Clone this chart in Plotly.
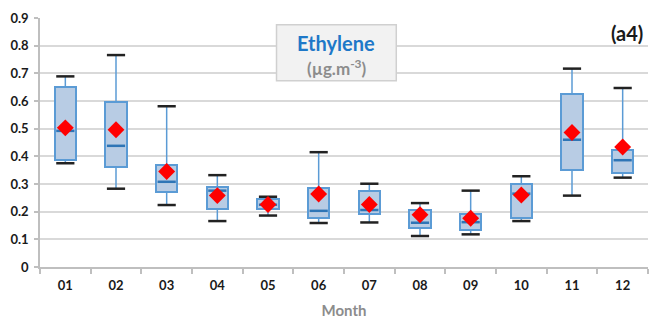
import plotly.graph_objects as go

months = ["01", "02", "03", "04", "05", "06", "07", "08", "09", "10", "11", "12"]
wmin   = [0.375, 0.283, 0.224, 0.166, 0.186, 0.159, 0.161, 0.112, 0.118, 0.166, 0.258, 0.323]
q1     = [0.385, 0.363, 0.271, 0.210, 0.209, 0.177, 0.190, 0.140, 0.132, 0.178, 0.351, 0.339]
median = [0.492, 0.438, 0.308, 0.276, 0.225, 0.203, 0.206, 0.160, 0.162, 0.265, 0.460, 0.386]
q3     = [0.651, 0.598, 0.369, 0.290, 0.245, 0.284, 0.276, 0.206, 0.191, 0.301, 0.626, 0.423]
wmax   = [0.689, 0.766, 0.581, 0.332, 0.254, 0.415, 0.301, 0.231, 0.276, 0.328, 0.717, 0.647]
mean   = [0.503, 0.496, 0.345, 0.258, 0.226, 0.264, 0.226, 0.189, 0.176, 0.260, 0.486, 0.434]

FONT = "Lato"
BLUE = "#5B9BD5"
FILL = "#B8CCE4"
DARK = "#2E75B6"

# whisker segments built from data
wx, wy = [], []
for m, lo, a, b, hi in zip(months, wmin, q1, q3, wmax):
    wx += [m, m, None, m, m, None]
    wy += [lo, a, None, b, hi, None]

fig = go.Figure()
fig.add_trace(go.Scatter(x=wx, y=wy, mode="lines",
                         line=dict(color=BLUE, width=1.5), hoverinfo="skip"))
fig.add_trace(go.Bar(x=months, y=[b - a for a, b in zip(q1, q3)], base=q1,
                     width=0.42, marker=dict(color=FILL, line=dict(color=BLUE, width=2))))
fig.add_trace(go.Scatter(x=months + months, y=wmin + wmax, mode="markers",
                         marker=dict(symbol="line-ew", size=13,
                                     line=dict(color="#222222", width=2.5))))
fig.add_trace(go.Scatter(x=months, y=median, mode="markers",
                         marker=dict(symbol="line-ew", size=13,
                                     line=dict(color=DARK, width=2.5))))
fig.add_trace(go.Scatter(x=months, y=mean, mode="markers",
                         marker=dict(symbol="diamond", size=13, color="#FF0000")))

fig.update_layout(
    width=661, height=311,
    margin=dict(l=32, r=21, t=10, b=52),
    paper_bgcolor="white", plot_bgcolor="white",
    showlegend=False,
    bargap=0,
    font=dict(family=FONT, size=13, color="#1a1a1a"),
    xaxis=dict(type="category", tickson="boundaries", ticks="outside", ticklen=5,
               tickcolor="#BFBFBF", tickwidth=1.5, automargin=False,
               showline=True, linecolor="#BFBFBF", linewidth=2,
               showgrid=False, range=[-0.5, 11.5], ticklabelstandoff=5,
               tickfont=dict(family=FONT, size=13, color="#1a1a1a", weight="bold"),
               title=dict(text="Month", standoff=15,
                          font=dict(family=FONT, size=15, color="#8C8C8C", weight="bold"))),
    yaxis=dict(range=[0, 0.9], dtick=0.1, ticks="outside", ticklen=4,
               tickcolor="#BFBFBF", tickwidth=1.5, automargin=False,
               showline=True, linecolor="#BFBFBF", linewidth=1.5,
               showgrid=True, gridcolor="#D9D9D9", gridwidth=1.5,
               zeroline=False, ticklabelstandoff=3,
               tickfont=dict(family=FONT, size=13, color="#1a1a1a", weight="bold")),
    shapes=[dict(type="rect", xref="paper", yref="paper",
                 x0=0.389, x1=0.586, y0=0.748, y1=0.973,
                 fillcolor="#F2F2F2", line=dict(color="#D0D0D0", width=1.5), layer="above")],
    annotations=[
        dict(text="<b>Ethylene</b>", xref="paper", yref="paper", x=0.4875, y=0.900,
             xanchor="center", yanchor="middle",
             showarrow=False, font=dict(family=FONT, size=20, color="#1E78C8")),
        dict(text="(µg.m<sup>-3</sup>)", xref="paper", yref="paper", x=0.4875, y=0.80,
             xanchor="center", yanchor="middle",
             showarrow=False, font=dict(family=FONT, size=17, color="#8C8C8C", weight="bold")),
        dict(text="<b>(a4)</b>", xref="paper", yref="paper", x=0.995, y=0.94,
             xanchor="right", yanchor="middle",
             showarrow=False, font=dict(family=FONT, size=20, color="#1a1a1a")),
    ],
)

fig.write_html("out.html")
